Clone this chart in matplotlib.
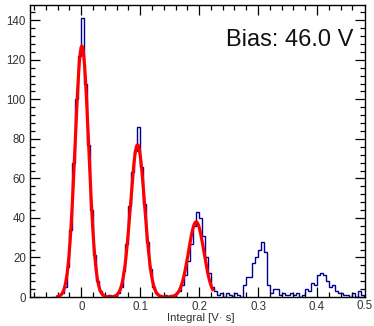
import numpy as np
import matplotlib.pyplot as plt

plt.rcParams['font.family'] = ['Liberation Sans', 'DejaVu Sans']

# histogram: lower bin edge of first bin, bin width, counts
bin_start = -0.05
bin_width = 0.005
counts = [
    0, 0, 1, 2, 5, 15, 34, 68, 100, 122,          # -0.050 .. -0.005
    141, 108, 77, 44, 21, 8, 3, 1, 0, 1,          # 0.000 .. 0.045
    0, 1, 2, 5, 13, 27, 46, 63, 74, 86,           # 0.050 .. 0.095
    66, 47, 28, 14, 5, 2, 1, 0, 1, 0,             # 0.100 .. 0.145
    1, 1, 2, 3, 6, 11, 18, 27, 36, 43,            # 0.150 .. 0.195
    40, 31, 20, 12, 5, 3, 1, 2, 0, 2,             # 0.200 .. 0.245
    1, 0, 2, 1, 0, 6, 10, 10, 17, 20,             # 0.250 .. 0.295
    24, 28, 23, 6, 2, 4, 4, 1, 2, 1,              # 0.300 .. 0.345
    1, 2, 1, 2, 0, 1, 4, 3, 7, 6,                 # 0.350 .. 0.395
    11, 12, 11, 8, 5, 6, 3, 2, 2, 1,              # 0.400 .. 0.445
    1, 0, 2, 0, 3, 1,                             # 0.450 .. 0.475
]

# three-gaussian fit parameters
fit_amp = [127, 77, 38]
fit_mean = [0.001, 0.0955, 0.195]
fit_sigma = [0.0115, 0.012, 0.013]
fit_range = (-0.04, 0.223)

bias_label = "Bias: 46.0 V"
x_title = "Integral [V\u00b7 s]"

edges = bin_start + bin_width * np.arange(len(counts) + 1)

fig = plt.figure(figsize=(3.74, 3.26), dpi=100)
ax = fig.add_axes([30 / 374, 29 / 326, 335 / 374, 292.5 / 326])

ax.stairs(counts, edges, color='#000090', linewidth=1.0)

xf = np.linspace(fit_range[0], fit_range[1], 400)
yf = np.zeros_like(xf)
for a, m, s in zip(fit_amp, fit_mean, fit_sigma):
    yf += a * np.exp(-0.5 * ((xf - m) / s) ** 2)
ax.plot(xf, yf, color='#ff0000', linewidth=2.3)

ax.set_xlim(-0.087, 0.4815)
ax.set_ylim(0, 148)
ax.set_xticks([0, 0.1, 0.2, 0.3, 0.4])
ax.set_xticklabels(['0', '0.1', '0.2', '0.3', '0.4'])
ax.set_xticks(np.arange(-0.08, 0.48, 0.02), minor=True)
ax.set_yticks(np.arange(0, 141, 20))
ax.set_yticks(np.arange(0, 148, 4), minor=True)
ax.tick_params(which='both', direction='in', top=True, right=True,
               labelsize=8.3, labelcolor='#333333', width=0.9)
ax.tick_params(which='major', length=7, pad=3)
ax.tick_params(which='minor', length=3.5)
for sp in ax.spines.values():
    sp.set_linewidth(1.0)

fig.text(373 / 374, 1 - 306 / 326, '0.5', ha='right', va='center',
         fontsize=8.3, color='#333333')

ax.text(0.964, 0.879, bias_label, transform=ax.transAxes, ha='right',
        va='center', fontsize=17, color='#111111')
fig.text(201 / 374, 1 - 318 / 326, x_title, ha='center', va='center',
         fontsize=8.2, color='#333333')

fig.savefig('out.png', dpi=100)
